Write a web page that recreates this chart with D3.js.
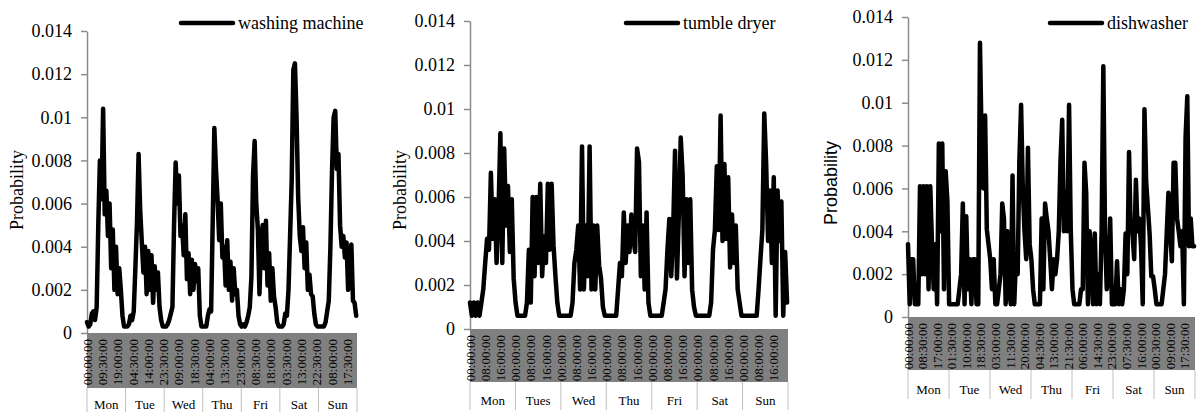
<!DOCTYPE html>
<html>
<head>
<meta charset="utf-8">
<script src="https://cdn.jsdelivr.net/npm/d3@7"></script>
<style>
  body { margin: 0; background: #fff; }
  svg { display: block; }
</style>
</head>
<body>
<svg id="chart" width="1201" height="412"></svg>
<script>
// day names under each panel (the dryer panel says "Tues")
const days = ['Mon', 'Tue', 'Wed', 'Thu', 'Fri', 'Sat', 'Sun'];
const dryerDays = ['Mon', 'Tues', 'Wed', 'Thu', 'Fri', 'Sat', 'Sun'];
const yTicks = [0, 0.002, 0.004, 0.006, 0.008, 0.01, 0.012, 0.014];

// hourly probabilities (24 per day, Mon..Sun)
const washingMachine = [
  0.0005,0.0003,0.0004,0.0009,0.0010,0.0006,0.0012,0.0050,0.0080,0.0062,0.0104,0.0055,0.0066,0.0045,0.0060,0.0030,0.0048,0.0020,0.0040,0.0018,0.0030,0.0020,0.0008,0.0003,
  0.0003,0.0003,0.0004,0.0008,0.0006,0.0010,0.0030,0.0051,0.0083,0.0057,0.0042,0.0028,0.0040,0.0018,0.0038,0.0020,0.0036,0.0014,0.0031,0.0020,0.0028,0.0012,0.0006,0.0003,
  0.0003,0.0003,0.0004,0.0006,0.0009,0.0012,0.0050,0.0079,0.0060,0.0073,0.0045,0.0050,0.0036,0.0055,0.0025,0.0037,0.0018,0.0034,0.0020,0.0032,0.0024,0.0030,0.0008,0.0003,
  0.0003,0.0003,0.0003,0.0008,0.0011,0.0010,0.0052,0.0095,0.0076,0.0062,0.0043,0.0060,0.0035,0.0040,0.0022,0.0043,0.0020,0.0033,0.0015,0.0030,0.0018,0.0020,0.0008,0.0004,
  0.0003,0.0004,0.0003,0.0005,0.0008,0.0012,0.0026,0.0073,0.0089,0.0060,0.0048,0.0018,0.0045,0.0050,0.0030,0.0052,0.0022,0.0037,0.0015,0.0030,0.0017,0.0012,0.0005,0.0003,
  0.0003,0.0003,0.0004,0.0009,0.0008,0.0020,0.0045,0.0071,0.0122,0.0125,0.0100,0.0063,0.0045,0.0038,0.0049,0.0030,0.0042,0.0020,0.0027,0.0018,0.0017,0.0009,0.0004,0.0003,
  0.0003,0.0003,0.0003,0.0003,0.0005,0.0010,0.0015,0.0040,0.0075,0.0100,0.0103,0.0076,0.0083,0.0050,0.0040,0.0045,0.0035,0.0042,0.0020,0.0032,0.0041,0.0015,0.0014,0.0008
];

const tumbleDryer = [
  0.0012,0.0006,0.0012,0.0006,0.0012,0.0006,0.0012,0.0018,0.0030,0.0041,0.0036,0.0071,0.0041,0.0059,0.0030,0.0053,0.0089,0.0030,0.0082,0.0047,0.0065,0.0035,0.0059,0.0023,
  0.0012,0.0006,0.0006,0.0006,0.0006,0.0006,0.0012,0.0036,0.0012,0.0060,0.0024,0.0060,0.0030,0.0066,0.0024,0.0042,0.0030,0.0066,0.0036,0.0066,0.0038,0.0024,0.0012,0.0006,
  0.0006,0.0006,0.0006,0.0006,0.0006,0.0006,0.0012,0.0030,0.0036,0.0047,0.0018,0.0083,0.0018,0.0047,0.0024,0.0083,0.0018,0.0047,0.0018,0.0047,0.0029,0.0023,0.0010,0.0006,
  0.0006,0.0006,0.0006,0.0006,0.0006,0.0006,0.0018,0.0030,0.0024,0.0053,0.0030,0.0047,0.0035,0.0052,0.0041,0.0035,0.0082,0.0076,0.0024,0.0047,0.0018,0.0053,0.0012,0.0006,
  0.0006,0.0006,0.0006,0.0006,0.0006,0.0006,0.0012,0.0018,0.0036,0.0050,0.0024,0.0045,0.0081,0.0023,0.0052,0.0087,0.0070,0.0024,0.0059,0.0030,0.0059,0.0018,0.0010,0.0006,
  0.0006,0.0006,0.0006,0.0006,0.0006,0.0006,0.0006,0.0012,0.0036,0.0045,0.0074,0.0045,0.0097,0.0040,0.0075,0.0041,0.0069,0.0028,0.0052,0.0030,0.0047,0.0018,0.0012,0.0006,
  0.0006,0.0006,0.0006,0.0006,0.0006,0.0006,0.0006,0.0006,0.0018,0.0032,0.0045,0.0098,0.0075,0.0040,0.0063,0.0030,0.0069,0.0006,0.0063,0.0040,0.0058,0.0006,0.0035,0.0012
];

const dishwasher = [
  0.0034,0.0006,0.0027,0.0027,0.0006,0.0006,0.0006,0.0061,0.0020,0.0061,0.0020,0.0061,0.0013,0.0061,0.0034,0.0013,0.0034,0.0006,0.0081,0.0040,0.0081,0.0013,0.0068,0.0054,
  0.0006,0.0006,0.0006,0.0006,0.0006,0.0006,0.0013,0.0020,0.0053,0.0006,0.0047,0.0013,0.0027,0.0006,0.0027,0.0027,0.0006,0.0006,0.0128,0.0080,0.0060,0.0094,0.0041,0.0034,
  0.0027,0.0013,0.0027,0.0006,0.0006,0.0013,0.0020,0.0053,0.0046,0.0006,0.0040,0.0013,0.0006,0.0066,0.0006,0.0027,0.0020,0.0073,0.0099,0.0060,0.0040,0.0027,0.0079,0.0034,
  0.0027,0.0013,0.0006,0.0006,0.0006,0.0006,0.0046,0.0013,0.0053,0.0046,0.0040,0.0027,0.0013,0.0027,0.0020,0.0027,0.0040,0.0073,0.0092,0.0040,0.0058,0.0040,0.0099,0.0040,
  0.0013,0.0006,0.0006,0.0006,0.0006,0.0013,0.0013,0.0072,0.0058,0.0006,0.0040,0.0027,0.0006,0.0039,0.0006,0.0020,0.0006,0.0040,0.0117,0.0039,0.0013,0.0020,0.0046,0.0006,
  0.0006,0.0006,0.0026,0.0006,0.0013,0.0006,0.0013,0.0039,0.0020,0.0077,0.0040,0.0039,0.0027,0.0064,0.0040,0.0046,0.0033,0.0006,0.0097,0.0063,0.0051,0.0039,0.0019,0.0019,
  0.0013,0.0006,0.0006,0.0006,0.0006,0.0013,0.0020,0.0039,0.0058,0.0040,0.0026,0.0072,0.0072,0.0046,0.0040,0.0033,0.0040,0.0006,0.0084,0.0103,0.0033,0.0046,0.0033,0.0033
];

// category labels in the grey band (one every N half-hour slots)
const washerTimes = ['00:00:00','09:30:00','19:00:00','04:30:00','14:00:00','23:30:00','09:00:00','18:30:00','04:00:00',
  '13:30:00','23:00:00','08:30:00','18:00:00','03:30:00','13:00:00','22:30:00','08:00:00','17:30:00'];
const dryerTimes = ['00:00:00','08:00:00','16:00:00','00:00:00','08:00:00','16:00:00','00:00:00','08:00:00','16:00:00',
  '00:00:00','08:00:00','16:00:00','00:00:00','08:00:00','16:00:00','00:00:00','08:00:00','16:00:00','00:00:00','08:00:00','16:00:00'];
const dishTimes = ['00:00:00','08:30:00','17:00:00','01:30:00','10:00:00','18:30:00','03:00:00','11:30:00','20:00:00','04:30:00',
  '13:00:00','21:30:00','06:00:00','14:30:00','23:00:00','07:30:00','16:00:00','00:30:00','09:00:00','17:30:00'];

const SERIF = '"Liberation Serif", "Times New Roman", serif';
const SANS = '"Liberation Sans", Arial, sans-serif';
const SLOTS = 336; // half-hour slots in a week

const panels = [
  { name: 'washing machine', values: washingMachine, times: washerTimes, step: 19, days: days,
    left: 87, right: 357, top: 31, bottom: 333, bandH: 55, rowBottom: 412,
    titleX: 23, titleY: 190, titleFont: SERIF, legendX: 181 },
  { name: 'tumble dryer', values: tumbleDryer, times: dryerTimes, step: 16, days: dryerDays,
    left: 470, right: 788, top: 21, bottom: 329, bandH: 53, rowBottom: 410,
    titleX: 406, titleY: 190, titleFont: SERIF, legendX: 626 },
  { name: 'dishwasher', values: dishwasher, times: dishTimes, step: 17, days: days,
    left: 908, right: 1195, top: 17, bottom: 317, bandH: 53, rowBottom: 399,
    titleX: 837, titleY: 183, titleFont: SANS, legendX: 1050 }
];

const svg = d3.select('#chart');

panels.forEach(p => {
  const g = svg.append('g');

  const x = d3.scaleLinear().domain([0, SLOTS - 1]).range([p.left, p.right]);
  const y = d3.scaleLinear().domain([0, 0.014]).range([p.bottom, p.top]);
  const dayScale = d3.scaleBand().domain(p.days).range([p.left, p.right]);

  // grey category band under the plot
  const bandTop = p.bottom;
  const bandBottom = p.bottom + p.bandH;
  g.append('rect')
    .attr('x', p.left).attr('y', bandTop)
    .attr('width', p.right - p.left).attr('height', p.bandH)
    .attr('fill', '#808080');

  // rotated time labels
  g.selectAll('.tlabel')
    .data(p.times)
    .enter()
    .append('text')
    .attr('class', 'tlabel')
    .attr('transform', (d, i) => `translate(${x(i * p.step)},${bandTop + 6}) rotate(-90)`)
    .attr('dy', '0.35em')
    .attr('text-anchor', 'end')
    .style('font-family', SERIF)
    .style('font-size', '13px')
    .attr('fill', '#000')
    .text(d => d);

  // day row separators and names
  const edges = p.days.map(d => dayScale(d)).concat([p.right]);
  g.selectAll('.sep')
    .data(edges)
    .enter()
    .append('line')
    .attr('x1', d => d).attr('x2', d => d)
    .attr('y1', bandBottom).attr('y2', p.rowBottom)
    .attr('stroke', '#bfbfbf')
    .attr('stroke-width', 1);

  g.selectAll('.day')
    .data(p.days)
    .enter()
    .append('text')
    .attr('x', d => dayScale(d) + dayScale.bandwidth() / 2)
    .attr('y', (bandBottom + p.rowBottom) / 2 + 9)
    .attr('text-anchor', 'middle')
    .style('font-family', SERIF)
    .style('font-size', '13px')
    .text(d => d);

  // y axis
  const yAxis = g.append('g')
    .attr('transform', `translate(${p.left},0)`)
    .call(d3.axisLeft(y)
      .tickValues(yTicks)
      .tickSize(6)
      .tickSizeOuter(0)
      .tickPadding(9)
      .tickFormat(d => d === 0 ? '0' : String(+d.toFixed(3))));
  yAxis.select('.domain').attr('stroke', '#8c8c8c').attr('stroke-width', 1.5);
  yAxis.selectAll('.tick line').attr('stroke', '#8c8c8c').attr('stroke-width', 1.5);
  yAxis.selectAll('.tick text')
    .style('font-family', SERIF)
    .style('font-size', '18px')
    .attr('fill', '#000');

  // axis title
  g.append('text')
    .attr('transform', `translate(${p.titleX},${p.titleY}) rotate(-90)`)
    .attr('text-anchor', 'middle')
    .style('font-family', p.titleFont)
    .style('font-size', '18px')
    .text('Probability');

  // the series, hourly values placed on the half-hour slot axis
  const line = d3.line()
    .x((d, i) => x(i * 2))
    .y(d => y(d));
  g.append('path')
    .datum(p.values)
    .attr('d', line)
    .attr('fill', 'none')
    .attr('stroke', '#000')
    .attr('stroke-width', 4.5)
    .attr('stroke-linejoin', 'round')
    .attr('stroke-linecap', 'round');

  // legend
  g.append('line')
    .attr('x1', p.legendX).attr('x2', p.legendX + 52)
    .attr('y1', 23).attr('y2', 23)
    .attr('stroke', '#000')
    .attr('stroke-width', 4.5)
    .attr('stroke-linecap', 'round');
  g.append('text')
    .attr('x', p.legendX + 57)
    .attr('y', 29)
    .style('font-family', SERIF)
    .style('font-size', '18px')
    .text(p.name);
});
</script>
</body>
</html>
